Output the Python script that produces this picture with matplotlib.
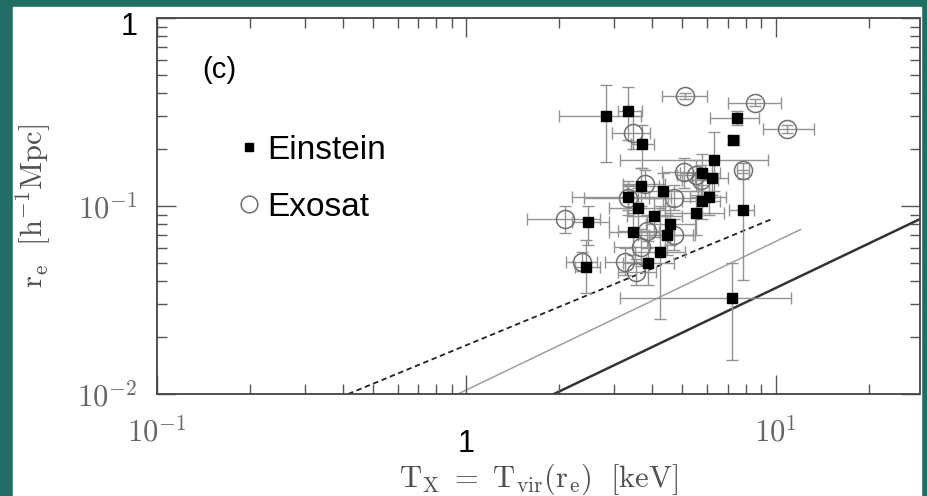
import matplotlib
matplotlib.use('Agg')
import matplotlib.pyplot as plt
from matplotlib.patches import Rectangle
from matplotlib.lines import Line2D
from matplotlib.transforms import ScaledTranslation
import numpy as np

plt.rcParams['mathtext.fontset'] = 'cm'

# --- Einstein clusters: T_x [keV], r_e [h^-1 Mpc] with error ranges ---
ein_t = [2.82, 3.34, 3.71, 7.53, 7.26, 6.30, 5.80, 6.25, 6.07, 5.80, 5.51, 7.82, 3.66,
         3.34, 4.34, 3.60, 4.06, 2.48, 3.47, 4.57, 4.47, 4.24, 3.88, 2.44, 7.21]
ein_t_lo = [1.99, 3.10, 3.40, 6.16, 7.00, 3.15, 4.90, 5.50, 5.30, 5.00, 4.40, 7.05, 3.20,
            2.20, 3.30, 2.90, 3.30, 2.20, 2.90, 3.80, 3.60, 3.50, 3.20, 2.25, 3.15]
ein_t_hi = [3.66, 3.71, 4.05, 8.81, 7.60, 9.42, 6.60, 7.00, 6.90, 6.60, 6.80, 8.54, 4.20,
            4.50, 5.60, 4.40, 5.00, 2.90, 4.20, 5.50, 5.40, 5.10, 4.70, 2.70, 11.2]
ein_r = [0.302, 0.321, 0.214, 0.294, 0.225, 0.176, 0.150, 0.141, 0.112, 0.106, 0.0918, 0.0953,
         0.128, 0.112, 0.120, 0.0977, 0.0886, 0.0823, 0.0728, 0.0802, 0.0702, 0.0570, 0.0498,
         0.0474, 0.0324]
ein_r_lo = [0.172, 0.225, 0.160, 0.270, 0.215, 0.120, 0.120, 0.115, 0.090, 0.085, 0.070, 0.0405,
            0.100, 0.090, 0.095, 0.075, 0.068, 0.062, 0.055, 0.062, 0.055, 0.025, 0.038,
            0.0344, 0.0152]
ein_r_hi = [0.441, 0.430, 0.270, 0.320, 0.235, 0.248, 0.190, 0.175, 0.140, 0.130, 0.115, 0.150,
            0.160, 0.135, 0.150, 0.125, 0.110, 0.100, 0.092, 0.100, 0.090, 0.100, 0.065,
            0.066, 0.0498]

# --- Exosat clusters ---
exo_t = [5.08, 8.61, 10.9, 3.47, 7.82, 5.04, 5.51, 3.77, 3.34, 4.68, 2.08, 3.85, 4.68,
         3.66, 2.36, 3.27, 3.55, 5.72]
exo_t_lo = [4.30, 7.03, 9.10, 2.96, 7.50, 4.30, 4.80, 3.20, 2.40, 3.90, 1.57, 3.10, 3.90,
            3.00, 2.10, 2.80, 3.10, 5.00]
exo_t_hi = [6.01, 10.4, 13.3, 3.94, 8.20, 5.90, 6.30, 4.40, 4.60, 5.60, 2.70, 4.70, 5.50,
            4.40, 2.65, 3.80, 4.10, 6.50]
exo_r = [0.386, 0.354, 0.257, 0.245, 0.156, 0.152, 0.147, 0.131, 0.110, 0.110, 0.0854, 0.0737,
         0.0702, 0.0606, 0.0504, 0.0504, 0.0446, 0.138]
exo_r_lo = [0.370, 0.340, 0.245, 0.200, 0.140, 0.125, 0.120, 0.110, 0.095, 0.095, 0.072, 0.060,
            0.058, 0.048, 0.045, 0.043, 0.038, 0.115]
exo_r_hi = [0.400, 0.370, 0.270, 0.300, 0.170, 0.180, 0.175, 0.155, 0.130, 0.130, 0.100, 0.090,
            0.085, 0.075, 0.057, 0.060, 0.052, 0.165]

# --- model relations (power laws, end points) ---
dash_t = [0.415, 9.86]
dash_r = [0.01, 0.086]
thin_t = [0.94, 12.05]
thin_r = [0.01, 0.075]
thick_t = [1.92, 29.2]
thick_r = [0.01, 0.085]

x_ticks = [0.1, 1, 10]
x_labels = ['$10^{-1}$', '1', '$10^{1}$']
y_ticks = [0.01, 0.1, 1]
y_labels = ['$10^{-2}$', '$10^{-1}$', '1']

W, H = 927, 496
fig = plt.figure(figsize=(W / 100, H / 100), dpi=100)
fig.patch.set_facecolor('#1f6e63')
fig.add_artist(Rectangle((13 / W, 0), (921 - 13) / W, (H - 7) / H,
                         transform=fig.transFigure, color='white', zorder=-1))

ax = fig.add_axes([157 / W, (H - 394) / H, (919.5 - 157) / W, (394 - 18) / H])
ax.set_xscale('log')
ax.set_yscale('log')


def errs(v, lo, hi):
    v, lo, hi = np.array(v), np.array(lo), np.array(hi)
    return np.vstack([v - lo, hi - v])


ebar_kw = dict(fmt='none', ecolor='#939393', elinewidth=1.0, capsize=4.5, capthick=1.0)
ax.errorbar(exo_t, exo_r, xerr=errs(exo_t, exo_t_lo, exo_t_hi),
            yerr=errs(exo_r, exo_r_lo, exo_r_hi), zorder=2, **ebar_kw)
ax.errorbar(ein_t, ein_r, xerr=errs(ein_t, ein_t_lo, ein_t_hi),
            yerr=errs(ein_r, ein_r_lo, ein_r_hi), zorder=2, **ebar_kw)
ax.plot(exo_t, exo_r, 'o', ms=13, mfc='none', mec='#707070', mew=1.1, zorder=3)
ax.plot(ein_t, ein_r, 's', ms=6.5, color='black', zorder=4)

ax.plot(dash_t, dash_r, ls=(0, (3, 2)), color='#222222', lw=1.3, zorder=1)
ax.plot(thin_t, thin_r, '-', color='#a0a0a0', lw=1.1, zorder=1)
ax.plot(thick_t, thick_r, '-', color='#333333', lw=1.8, zorder=1)

ax.set_xlim(0.1, 29.2)
ax.set_ylim(0.01, 1)

ax.set_xticks(x_ticks, x_labels)
ax.set_yticks(y_ticks, y_labels)
ax.tick_params(which='both', direction='in', top=True, right=True, color='#555555')
ax.tick_params(which='major', length=14, width=1.0, labelsize=22, labelcolor='#666666')
ax.tick_params(which='minor', length=7, width=1.0)
ax.tick_params(axis='x', which='major', pad=16)
ax.tick_params(axis='y', which='major', pad=14)
# the plain "1" labels are sans and sit a little lower than the powers of ten
for lbl in ax.get_xticklabels():
    if lbl.get_text() == '1':
        lbl.set_fontfamily('Liberation Sans')
        lbl.set_color('black')
        lbl.set_transform(lbl.get_transform() + ScaledTranslation(0, -9 / 72, fig.dpi_scale_trans))
for lbl in ax.get_yticklabels():
    if lbl.get_text() == '1':
        lbl.set_fontfamily('Liberation Sans')
        lbl.set_color('black')
        lbl.set_transform(lbl.get_transform() + ScaledTranslation(0, -4 / 72, fig.dpi_scale_trans))
for s in ax.spines.values():
    s.set_color('#444444')
    s.set_linewidth(1.3)

ax.set_xlabel(r'$\mathrm{T_X\ =\ T_{vir}(r_e)\ \ [keV]}$', fontsize=22, color='#505050', labelpad=2)
ax.set_ylabel(r'$\mathrm{r_e\ \ [h^{-1}Mpc]}$', fontsize=22, color='#505050', labelpad=17)

ax.text(0.060, 0.862, '(c)', transform=ax.transAxes, fontsize=21,
        family='Liberation Sans', va='center', ha='left')

handles = [Line2D([], [], ls='none', marker='s', ms=5.5, color='black'),
           Line2D([], [], ls='none', marker='o', ms=12, mfc='none', mec='#707070', mew=1.1)]
ax.legend(handles, ['Einstein', 'Exosat'], loc='center left', bbox_to_anchor=(0.086, 0.572),
          frameon=False, handlelength=0.6, handletextpad=0.25, labelspacing=0.78,
          borderpad=0, prop={'family': 'Liberation Sans', 'size': 24})

fig.savefig('out.png', dpi=100, facecolor=fig.get_facecolor())
